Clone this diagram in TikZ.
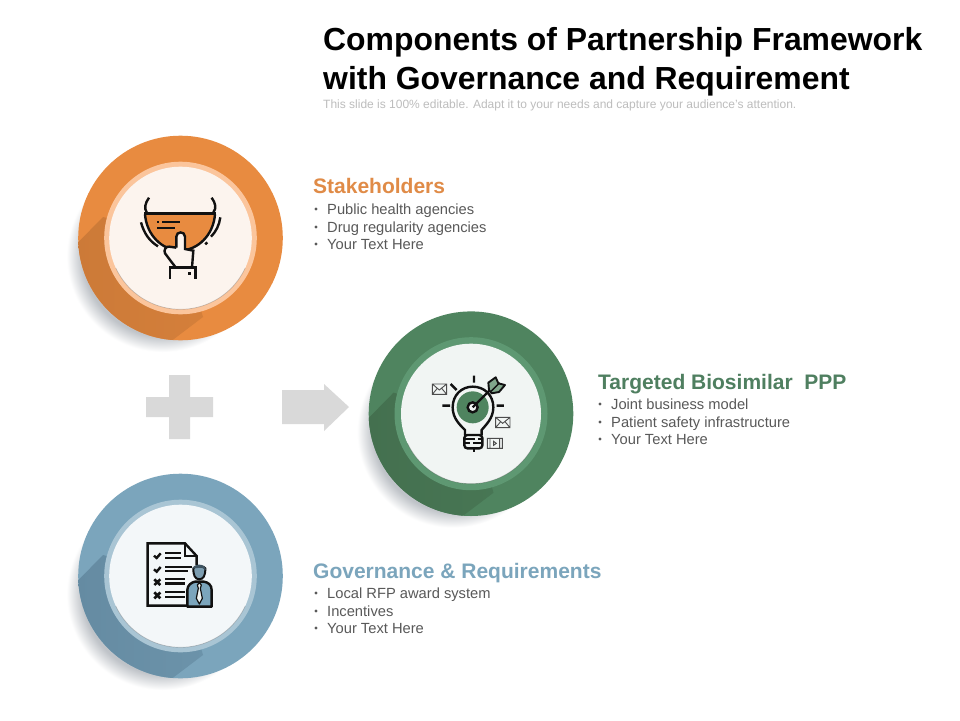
\documentclass[tikz,border=0pt]{standalone}
\usepackage{fontspec}
\setmainfont{Liberation Sans}
\usetikzlibrary{calc}
\definecolor{orA}{HTML}{E88B40}\definecolor{orB}{HTML}{FBC59C}\definecolor{orC}{HTML}{FCF4EE}\definecolor{orD}{HTML}{CC7A38}\definecolor{orT}{HTML}{E08B47}
\definecolor{grA}{HTML}{4F845F}\definecolor{grB}{HTML}{5E9872}\definecolor{grC}{HTML}{F1F5F3}\definecolor{grD}{HTML}{44704F}\definecolor{grT}{HTML}{4F7F60}
\definecolor{blA}{HTML}{7BA5BC}\definecolor{blB}{HTML}{A9C5D4}\definecolor{blC}{HTML}{F3F7F9}\definecolor{blD}{HTML}{658BA2}\definecolor{blT}{HTML}{7BA5BC}
\definecolor{sgray}{HTML}{BFC3C8}\definecolor{txtg}{HTML}{595959}\definecolor{subg}{HTML}{BDBDBD}\definecolor{shapeg}{HTML}{D9D9D9}\definecolor{iconk}{HTML}{111111}
\pgfdeclareradialshading{softshadow}{\pgfpoint{0bp}{0bp}}{color(0bp)=(sgray);color(20.8bp)=(sgray);color(25bp)=(white);color(50bp)=(white)}
\tikzset{
  titletext/.style={anchor=base west,inner sep=0pt,font=\fontsize{31.9}{36}\selectfont\bfseries,text=black},
  subtext/.style={anchor=base west,inner sep=0pt,font=\fontsize{12}{14}\selectfont,text=subg},
  headtext/.style={anchor=base west,inner sep=0pt,font=\fontsize{21}{24}\selectfont\bfseries},
  itemtext/.style={anchor=base west,inner sep=0pt,font=\fontsize{14.7}{17}\selectfont,text=txtg},
  bulletdot/.style={fill=txtg,draw=none},
  ic/.style={draw=iconk,line width=2.4pt,line cap=butt},
  icthin/.style={draw=iconk!75,line width=.9pt},
  greyshape/.style={fill=shapeg,draw=none}
}
% centre x, centre y, outer colour, ring colour, inner colour, dark colour, R ring, R inner
\newcommand{\partdisc}[8]{%
  \shade[shading=softshadow] (#1-18,#2+18) circle[radius=96pt];
  \fill[#3] (#1,#2) circle[radius=102.3pt];
  \begin{scope}
    \clip (#1,#2) circle[radius=102.3pt];
    \shade[left color=#6,right color=#6!70!#3] (#1,#2) -- (#1-77.5,#2-21) -- (#1-104,#2+6) -- (#1-104,#2+110) -- (#1-10.5,#2+104) -- (#1+22.5,#2+79) -- cycle;
  \end{scope}
  \fill[#4] (#1,#2) circle[radius=#7pt];
  \fill[#5] (#1,#2) circle[radius=#8pt];
  \draw[black,opacity=.2,line width=.7pt] (#1,#2)++(-25:#8pt) arc[start angle=-25,end angle=-155,radius=#8pt];
}
\begin{document}
\begin{tikzpicture}[x=1pt,y=-1pt]
\useasboundingbox (0,0) rectangle (960,720);
\fill[white] (0,0) rectangle (960,720);

% title
\node[titletext] (t1) at (323,50) {Components of Partnership Framework};
\node[titletext] (t2) at (323,89) {with Governance and Requirement};
\node[subtext] (t3) at (323,108.7) {This slide is 100\% editable. Adapt it to your needs and capture your audience's attention.};

% discs
\partdisc{180.5}{238}{orA}{orB}{orC}{orD}{76.3}{71.3}
\partdisc{471}{413.7}{grA}{grB}{grC}{grD}{76.5}{70}
\partdisc{180.5}{576}{blA}{blB}{blC}{blD}{76.3}{71.3}

% plus and arrow
\fill[greyshape] (169,375) -- (190,375) -- (190,397) -- (213,397) -- (213,417) -- (190,417) -- (190,439) -- (169,439) -- (169,417) -- (146,417) -- (146,397) -- (169,397) -- cycle;
\fill[greyshape] (282,390) -- (324,390) -- (324,384) -- (349,407) -- (324,431) -- (324,424) -- (282,424) -- cycle;

% stakeholders text
\node[headtext,text=orT] (h1) at (313,193) {Stakeholders};
\node[itemtext] (a1) at (327,214) {Public health agencies};
\node[itemtext] (a2) at (327,232) {Drug regularity agencies};
\node[itemtext] (a3) at (327,249) {Your Text Here};
\foreach \y in {209,227,244} \fill[bulletdot] (316,\y) circle[radius=1.7pt];

% targeted text
\node[headtext,text=grT] (h2) at (598,389) {Targeted Biosimilar\ \ PPP};
\node[itemtext] (b1) at (611,409) {Joint business model};
\node[itemtext] (b2) at (611,427) {Patient safety infrastructure};
\node[itemtext] (b3) at (611,444) {Your Text Here};
\foreach \y in {404,422,439} \fill[bulletdot] (600,\y) circle[radius=1.7pt];

% governance text
\node[headtext,text=blT] (h3) at (313,578) {Governance \& Requirements};
\node[itemtext] (c1) at (327,598) {Local RFP award system};
\node[itemtext] (c2) at (327,616) {Incentives};
\node[itemtext] (c3) at (327,633) {Your Text Here};
\foreach \y in {593,611,628} \fill[bulletdot] (316,\y) circle[radius=1.7pt];

% icon 1: hand holding bowl
\begin{scope}[shift={(130,185)},x=.3333pt,y=-.3333pt]
  \fill[orA] (45,88) -- (255,88) .. controls (250,150) and (205,195) .. (150,197) .. controls (95,195) and (50,150) .. (45,88) -- cycle;
  \draw[ic] (45,88) .. controls (50,150) and (95,195) .. (150,197) .. controls (205,195) and (250,150) .. (255,88);
  \draw[ic,line width=2.8pt] (43,86) -- (257,86);
  \draw[ic] (57,38) .. controls (45,55) and (42,70) .. (50,82);
  \draw[ic] (245,38) .. controls (257,55) and (260,70) .. (250,82);
  \draw[ic] (33,112) .. controls (42,145) and (58,168) .. (84,184);
  \draw[ic] (271,97) .. controls (268,120) and (258,140) .. (243,155);
  \draw[ic] (226,178) -- (232,172);
  \draw[ic,line width=1.9pt] (82,110) -- (88,110) (97,112) -- (150,112) (82,128) -- (135,128);
  \fill[orC] (139,186) -- (139,155) .. controls (139,138) and (165,138) .. (165,155) -- (165,192) -- (190,197) -- (186,248) -- (136,248) -- (105,205) .. controls (100,195) and (108,183) .. (118,185) -- cycle;
  \draw[ic] (139,188) -- (139,155) .. controls (139,138) and (165,138) .. (165,155) -- (165,192) -- (190,197) -- (186,248);
  \draw[ic] (139,188) -- (118,185) .. controls (108,183) and (100,195) .. (105,205) -- (136,246);
  \draw[ic] (120,282) -- (120,248) -- (197,248) -- (197,282);
  \fill[iconk] (174,261) rectangle (182,269);
\end{scope}

% icon 2: bulb with target
\begin{scope}[shift={(425,370)},x=.3333pt,y=-.3333pt]
  \draw[ic] (147,17) -- (147,38) (77,42) -- (95,60) (52,107) -- (75,107) (215,107) -- (237,107);
  \draw[ic] (120,195) -- (120,180) .. controls (105,165) and (83,145) .. (83,112) .. controls (83,75) and (110,50) .. (143,50) .. controls (178,50) and (205,75) .. (205,112) .. controls (205,145) and (182,165) .. (170,180) -- (170,195);
  \fill[grA] (143,112) circle[radius=16pt];
  \draw[ic,fill=grC] (143,112) circle[radius=5pt];
  \draw[ic] (143,112) -- (205,50);
  \draw[ic,fill=grA!70!grC,line width=1.9pt,line join=round] (192,60) -- (190,38) -- (212,22) -- (220,40) -- (240,45) -- (222,66) -- (200,70) -- cycle;
  \draw[ic,line width=1.4pt] (198,64) -- (224,38);
  \draw[ic,fill=grC,rounded corners=3pt] (118,195) rectangle (172,235);
  \draw[ic,line width=1.8pt] (118,207) -- (150,207) (160,207) -- (172,207) (118,220) -- (135,220) (145,220) -- (172,220);
  \draw[ic] (147,235) -- (147,247);
  \draw[icthin] (22,42) rectangle (65,73) (22,42) -- (43,60) -- (65,42) (22,73) -- (37,55) (65,73) -- (50,55);
  \draw[icthin] (212,142) rectangle (255,173) (212,142) -- (233,160) -- (255,142) (212,173) -- (227,155) (255,173) -- (240,155);
  \draw[icthin] (187,205) rectangle (232,235) (195,205) -- (195,235) (224,205) -- (224,235) (206,214) -- (214,220) -- (206,226) -- cycle;
\end{scope}

% icon 3: checklist and person
\begin{scope}[shift={(140,535)},x=.3333pt,y=-.3333pt]
  \draw[ic,fill=blC] (170,90) -- (170,63) -- (135,25) -- (23,25) -- (23,212) -- (145,212);
  \draw[ic,line width=1.8pt] (135,25) -- (135,63) -- (170,63);
  \draw[ic,line width=1.9pt] (75,55) -- (122,55) (75,68) -- (122,68) (75,95) -- (155,95) (75,108) -- (145,108) (75,172) -- (135,172) (75,187) -- (135,187);
  \draw[ic,line width=2.6pt] (75,132) -- (135,132) (75,145) -- (135,145);
  \draw[ic] (42,62) -- (50,69) -- (62,55) (42,103) -- (50,110) -- (62,96);
  \draw[ic,line width=2.6pt] (43,133) -- (61,150) (61,133) -- (43,150) (43,172) -- (61,190) (61,172) -- (43,190);
  \draw[ic,fill=blA,line width=2.4pt,line join=round] (142,215) -- (142,165) .. controls (142,150) and (155,142) .. (165,140) -- (192,140) .. controls (205,142) and (215,150) .. (215,165) -- (215,215) -- cycle;
  \draw[ic,fill=grC,line width=1.2pt,line join=round] (178,143) -- (172,150) -- (175,160) -- (169,190) -- (178,207) -- (187,190) -- (181,160) -- (184,150) -- cycle;
  \draw[ic,fill=blA!80!gray,line width=2pt] (160,100) .. controls (160,122) and (165,132) .. (178,133) .. controls (191,132) and (196,122) .. (196,100) .. controls (196,92) and (160,92) .. (160,100) -- cycle;
  \fill[blD!60!black] (158,105) .. controls (156,85) and (196,82) .. (198,105) -- (185,98) -- (160,100) -- cycle;
\end{scope}
\end{tikzpicture}
\end{document}
